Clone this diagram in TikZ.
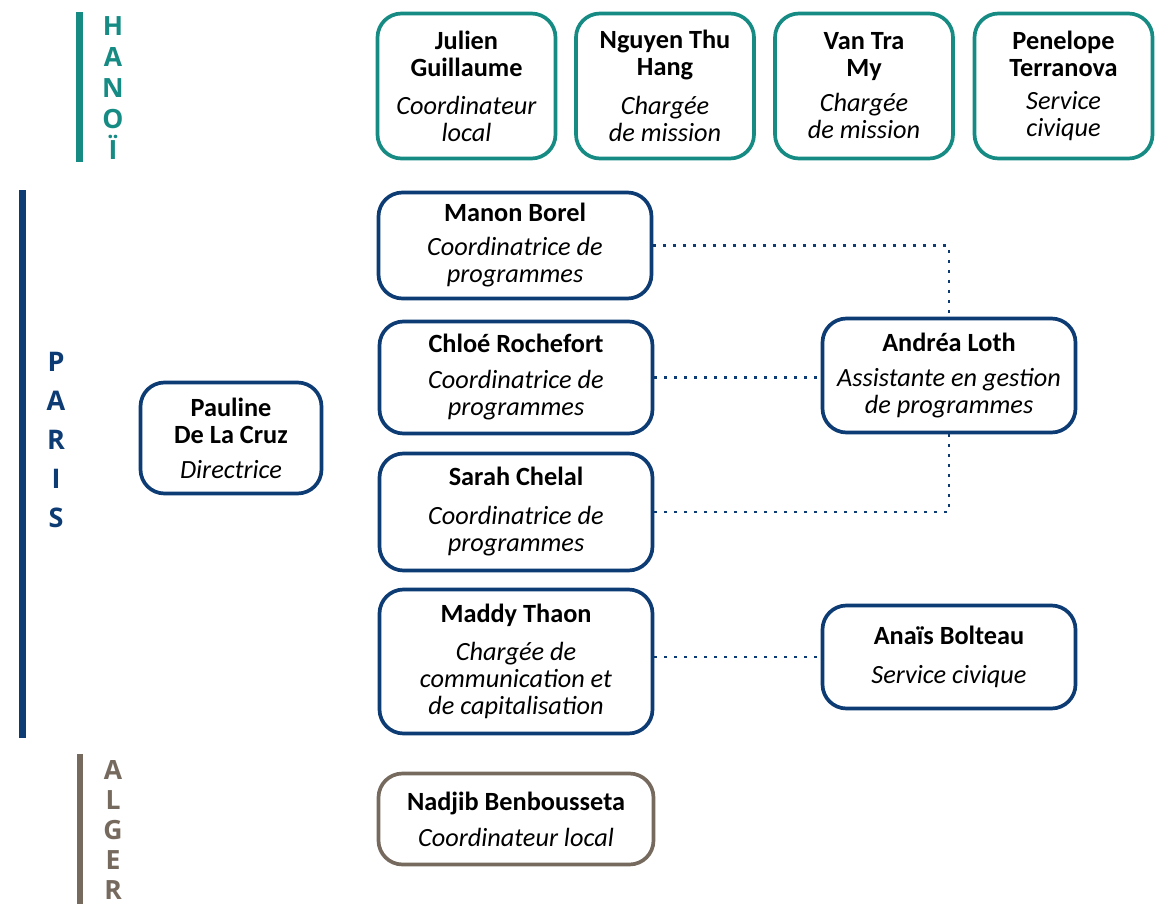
\documentclass[tikz,border=0pt]{standalone}
\usepackage{fontspec}
\setmainfont{Carlito}
\newfontfamily\cityfont{Open Sans}
\definecolor{hteal}{RGB}{22,139,131}
\definecolor{pnavy}{RGB}{13,59,115}
\definecolor{abrown}{RGB}{118,106,95}
\begin{document}
\begin{tikzpicture}[x=1pt,y=-1pt,
  box/.style={draw, line width=3.7pt, rounded corners=24pt, align=center, inner sep=0pt, fill=white, text=black,
    font=\fontsize{26.3}{27}\selectfont},
  hbox/.style={box, draw=hteal, minimum width=178pt, minimum height=145pt},
  pbox/.style={box, draw=pnavy},
  abox/.style={box, draw=abrown},
  link/.style={draw=pnavy, line width=2.8pt, dash pattern=on 2.8pt off 7.2pt},
  city/.style={font=\cityfont\bfseries\fontsize{26.5}{31}\selectfont, align=center, inner sep=0pt}]
\clip (0,0) rectangle (1169,904);
\fill[white] (0,0) rectangle (1169,904);

% city bars
\fill[hteal] (76,12) rectangle (83,162);
\fill[pnavy] (19,190) rectangle (26,738);
\fill[abrown] (77,754) rectangle (83,904);

\node[city, text=hteal] (hanoi) at (113,88) {H\\A\\N\\O\\Ï};
\node[city, text=pnavy, font=\cityfont\bfseries\fontsize{27}{39}\selectfont] (paris) at (56,440) {P\\A\\R\\I\\S};
\node[city, text=abrown, font=\cityfont\bfseries\fontsize{26.5}{30}\selectfont] (alger) at (113,830) {A\\L\\G\\E\\R};

% Hanoi
\node[hbox] (julien) at (466.5,86) {\textbf{Julien}\\\textbf{Guillaume}\\[11pt]\textit{Coordinateur}\\\textit{local}};
\node[hbox] (nguyen) at (665,86) {\textbf{Nguyen Thu}\\\textbf{Hang}\\[12pt]\textit{Chargée}\\\textit{de mission}};
\node[hbox] (vantra) at (864,86) {\textbf{Van Tra}\\\textbf{My}\\[8pt]\textit{Chargée}\\\textit{de mission}};
\node[hbox] (penelope) at (1063.5,86) {\textbf{Penelope}\\\textbf{Terranova}\\[6pt]\textit{Service}\\\textit{civique}};

% Paris
\node[pbox, minimum width=181pt, minimum height=111pt] (pauline) at (231,438) {\textbf{Pauline}\\\textbf{De La Cruz}\\[8pt]\textit{Directrice}};
\node[pbox, minimum width=273pt, minimum height=106pt] (manon) at (515,245.5) {\textbf{Manon Borel}\\[7pt]\textit{Coordinatrice de}\\\textit{programmes}};
\node[pbox, minimum width=273pt, minimum height=112pt] (chloe) at (516,377.5) {\textbf{Chloé Rochefort}\\[9pt]\textit{Coordinatrice de}\\\textit{programmes}};
\node[pbox, minimum width=273pt, minimum height=117pt] (sarah) at (516,512) {\textbf{Sarah Chelal}\\[12pt]\textit{Coordinatrice de}\\\textit{programmes}};
\node[pbox, minimum width=273pt, minimum height=144pt] (maddy) at (516,661.5) {\textbf{Maddy Thaon}\\[11pt]\textit{Chargée de}\\\textit{communication et}\\\textit{de capitalisation}};
\node[pbox, minimum width=253pt, minimum height=114pt] (andrea) at (949,375.5) {\textbf{Andréa Loth}\\[8pt]\textit{Assistante en gestion}\\\textit{de programmes}};
\node[pbox, minimum width=253pt, minimum height=103pt] (anais) at (949,657) {\textbf{Anaïs Bolteau}\\[12pt]\textit{Service civique}};

% Alger
\node[abox, minimum width=275pt, minimum height=91pt] (nadjib) at (516,819) {\textbf{Nadjib Benbousseta}\\[9pt]\textit{Coordinateur local}};

% dotted links
\draw[link] (manon.east) -- (manon.east -| andrea.north) -- (andrea.north);
\draw[link] (chloe.east) -- (andrea.west |- chloe.east);
\draw[link] (sarah.east) -| (andrea.south);
\draw[link] (maddy.east |- anais.west) -- (anais.west);
\end{tikzpicture}
\end{document}
